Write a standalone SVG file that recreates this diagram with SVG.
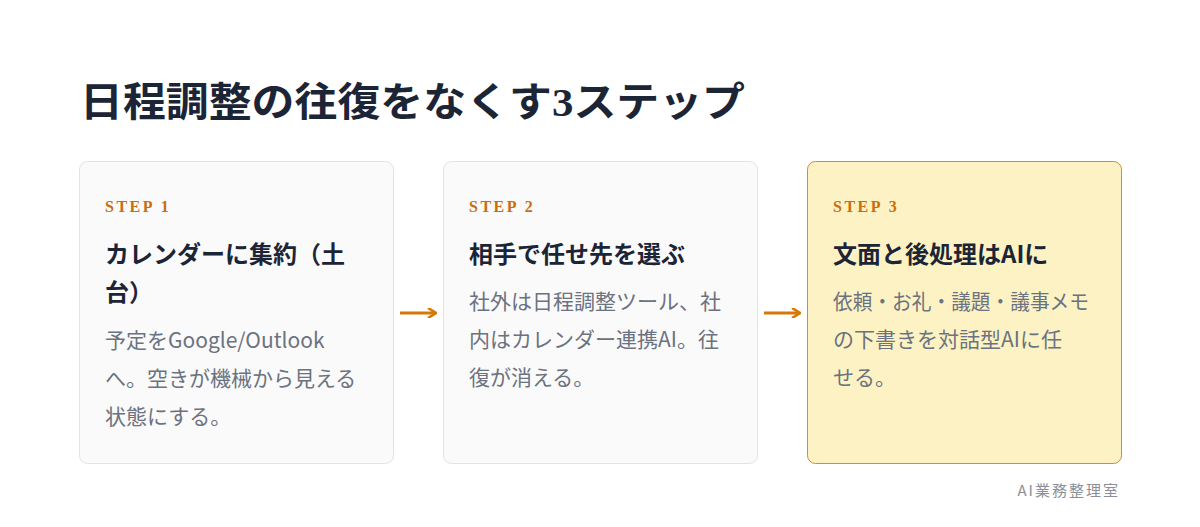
<svg xmlns="http://www.w3.org/2000/svg" width="1200" height="527" viewBox="0 0 1200 527">
<style>
.t{font-family:"Noto Sans CJK JP","Noto Sans",sans-serif}
.title{font-family:"Liberation Serif","Noto Sans CJK JP",serif;font-weight:700;font-size:40px;fill:#1c2536}
.step{font-family:"Liberation Serif",serif;font-weight:700;font-size:16px;fill:#c96d0e;letter-spacing:2.5px}
.h{font-family:"Noto Sans CJK JP",sans-serif;font-weight:700;font-size:24px;fill:#1c2536}
.b{font-family:"Noto Sans CJK JP",sans-serif;font-size:21px;fill:#6b7280}
.card{fill:#fafafa;stroke:#e3e3e3;stroke-width:1}
.arr{stroke:#d97706;stroke-width:3;fill:none}
</style>
<defs><marker id="ah" markerWidth="10" markerHeight="10" refX="8" refY="5" orient="auto" markerUnits="userSpaceOnUse"><path d="M1,0 L9,5 L1,10" fill="none" stroke="#d97706" stroke-width="2.6"/></marker></defs>
<rect width="1200" height="527" fill="#ffffff"/>
<text class="title" x="80" y="116" textLength="665" lengthAdjust="spacingAndGlyphs">日程調整の往復をなくす3ステップ</text>
<g id="step1"><rect class="card" x="79.5" y="161.5" width="314" height="302" rx="8"/>
<text class="step" x="105" y="212">STEP 1</text>
<text class="h" x="105" y="263">カレンダーに集約（土</text><text class="h" x="105" y="301">台）</text>
<text class="b" x="105" y="348">予定をGoogle/Outlook</text><text class="b" x="105" y="386">へ。空きが機械から見える</text><text class="b" x="105" y="424">状態にする。</text></g>
<g id="step2"><rect class="card" x="443.5" y="161.5" width="314" height="302" rx="8"/>
<text class="step" x="469" y="212">STEP 2</text>
<text class="h" x="469" y="263">相手で任せ先を選ぶ</text>
<text class="b" x="469" y="309">社外は日程調整ツール、社</text><text class="b" x="469" y="347">内はカレンダー連携AI。往</text><text class="b" x="469" y="385">復が消える。</text></g>
<g id="step3"><rect x="807.5" y="161.5" width="314" height="302" rx="8" fill="#fdf2c4" stroke="#e08a1a"/>
<text class="step" x="833" y="212">STEP 3</text>
<text class="h" x="833" y="263">文面と後処理はAIに</text>
<text class="b" x="833" y="309" textLength="256" lengthAdjust="spacingAndGlyphs">依頼・お礼・議題・議事メモ</text><text class="b" x="833" y="347">の下書きを対話型AIに任</text><text class="b" x="833" y="385">せる。</text></g>
<g id="connectors"><line class="arr" x1="400" y1="313" x2="435" y2="313" marker-end="url(#ah)"/><line class="arr" x1="764" y1="313" x2="799" y2="313" marker-end="url(#ah)"/></g>
<text class="t" x="1120" y="496" text-anchor="end" font-size="15" fill="#8a8f98" letter-spacing="2">AI業務整理室</text>
</svg>
